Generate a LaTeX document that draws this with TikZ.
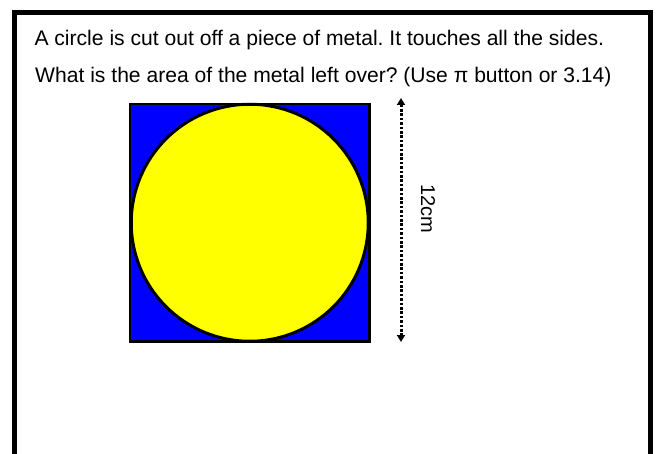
\documentclass[tikz,border=0pt]{standalone}
\usepackage{fontspec}
\setmainfont{Liberation Sans}
\usetikzlibrary{arrows.meta}
\frenchspacing
\begin{document}
\begin{tikzpicture}[x=1pt,y=-1pt,
  qtext/.style={anchor=base west,inner sep=0pt,font=\fontsize{21.1}{25}\selectfont},
  dimline/.style={line width=3pt,dash pattern=on 2.6pt off 1.8pt,{Triangle[width=8pt,length=7pt]}-{Triangle[width=8pt,length=7pt]}}]
\useasboundingbox (0,0) rectangle (661,454);
\clip (0,0) rectangle (661,454);
\draw[line width=5pt] (14.5,470) rectangle (650.5,12.5);
\node[qtext] (l1) at (34.3,45.5) {A circle is cut out off a piece of metal. It touches all the sides.};
\node[qtext] (l2) at (35,83) {What is the area of the metal left over? (Use π button or 3.14)};
\draw[fill={rgb,255:red,0;green,0;blue,255},line width=2.2pt] (130,104) rectangle (369.5,341.5);
\draw[fill={rgb,255:red,255;green,255;blue,0},line width=3pt] (249.75,222.75) circle (118.5);
\coordinate (atop) at (401,98);
\coordinate (abot) at (401,342);
\draw[dimline] (atop) -- (abot);
\node[rotate=-90,font=\fontsize{20}{24}\selectfont,inner sep=0pt] (lab) at (428,209) {12cm};
\end{tikzpicture}
\end{document}
